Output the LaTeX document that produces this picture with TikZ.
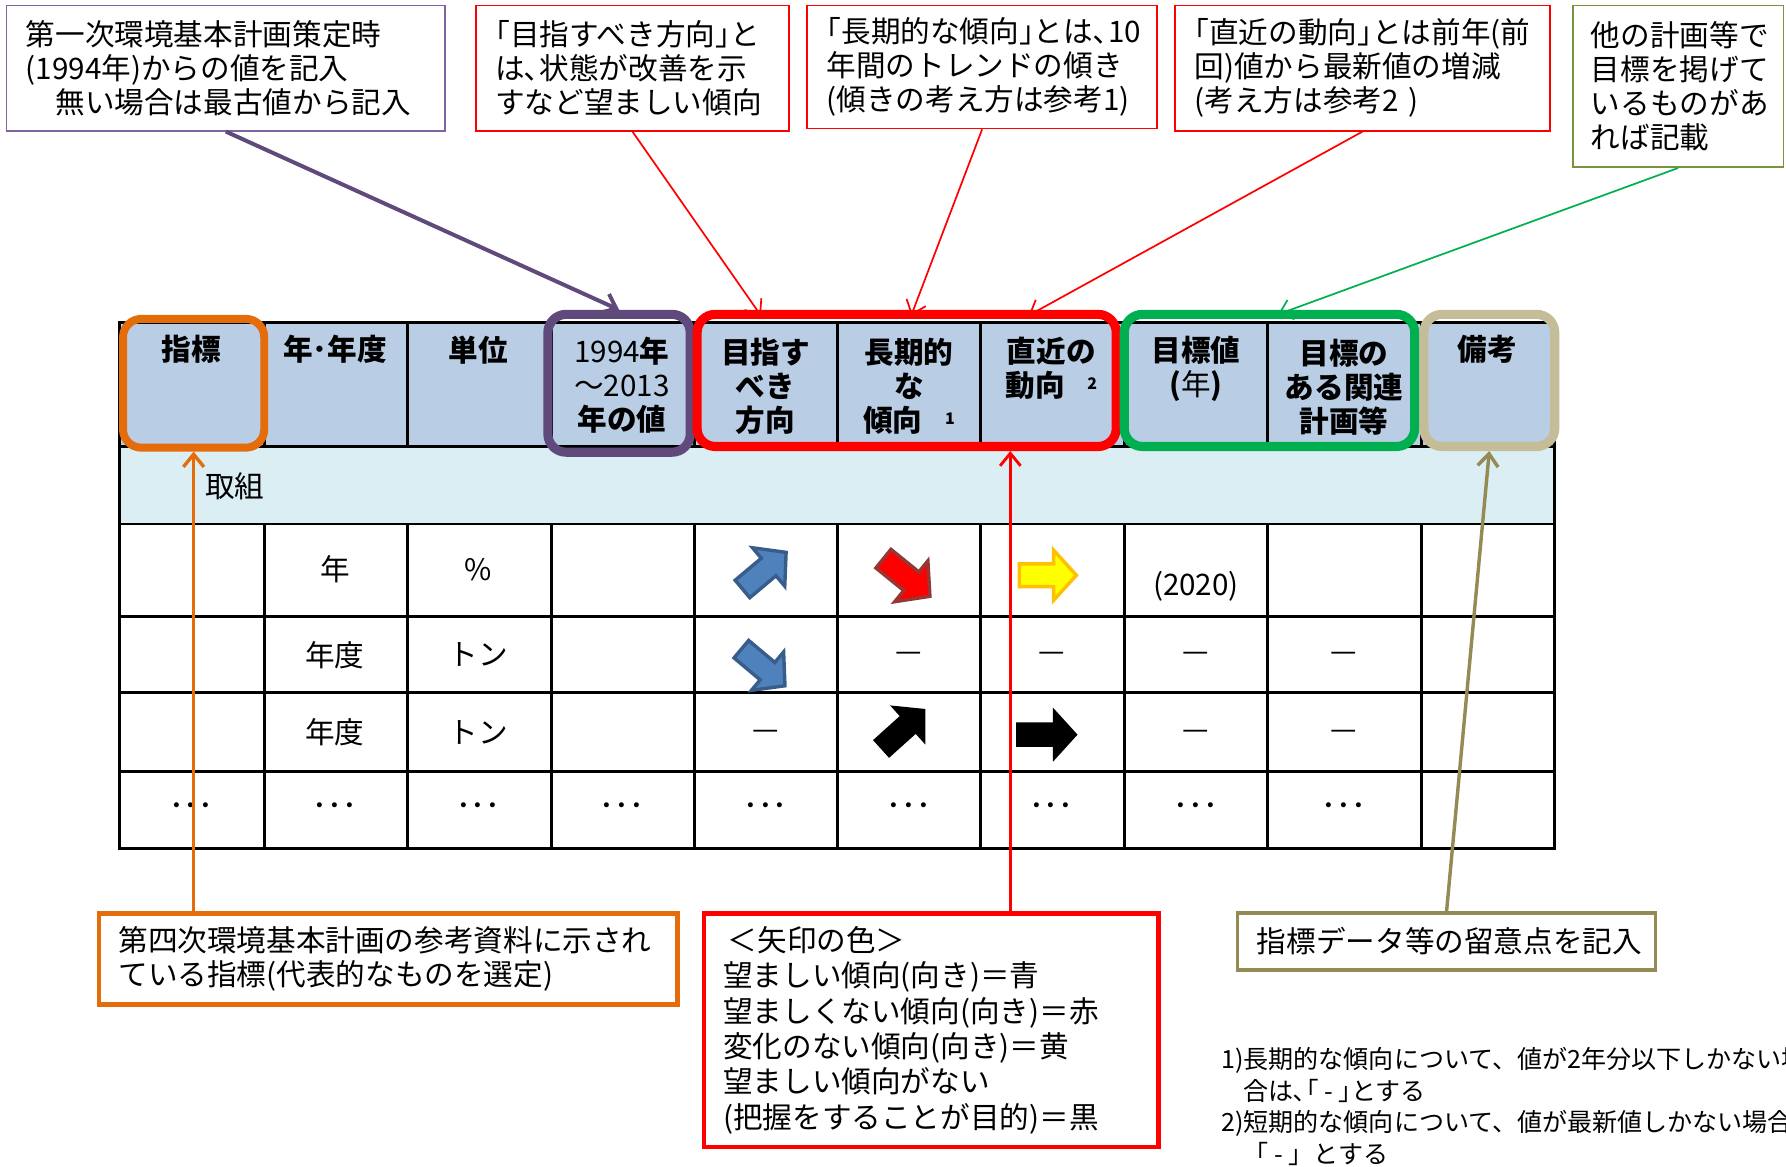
\documentclass[tikz,border=0pt]{standalone}
\usepackage{fontspec}
\setmainfont{Noto Sans CJK JP}
\usetikzlibrary{arrows.meta}
\definecolor{hdr}{HTML}{B9CDE5}
\definecolor{rowb}{HTML}{DAEEF3}
\definecolor{cOr}{HTML}{E46C0A}
\definecolor{cPu}{HTML}{604A7B}
\definecolor{cPuL}{HTML}{8064A2}
\definecolor{cGr}{HTML}{00B050}
\definecolor{cOl}{HTML}{77933C}
\definecolor{cTan}{HTML}{C4BD97}
\definecolor{cKh}{HTML}{948A54}
\definecolor{cBl}{HTML}{4F81BD}
\definecolor{cBlD}{HTML}{385D8A}
\definecolor{cRdD}{HTML}{953735}
\definecolor{cYe}{HTML}{FFFF00}
\definecolor{cYeD}{HTML}{FFC000}
\tikzset{
  nbox/.style={draw, anchor=north west, inner xsep=17pt, inner ysep=0pt, align=left, font=\fontsize{26}{30}\selectfont},
  hl/.style={draw, rounded corners=16pt, inner sep=0pt, line width=8pt},
  hdtxt/.style={font=\bfseries\fontsize{26}{30}\selectfont, align=center, inner sep=0pt},
  cell/.style={font=\fontsize{26}{30}\selectfont, inner sep=0pt},
  tip/.style={-{Straight Barb[length=11pt,width=18pt]}},
  gridline/.style={line width=2.5pt},
  barrow/.pic={\path[pic actions] (-25,-10) -- (5,-10) -- (5,-22) -- (25,0) -- (5,22) -- (5,10) -- (-25,10) -- cycle;}
}
\begin{document}
\begin{tikzpicture}[x=1pt,y=-1pt]
\useasboundingbox (0,0) rectangle (1568,1024);
\fill[white] (0,0) rectangle (1568,1024);

% ---- table ----
\fill[hdr] (105,283) rectangle (1365,392);
\fill[rowb] (105,392) rectangle (1365,460);
\foreach \yy in {392,460,541,608,677} \draw[gridline] (105,\yy) -- (1365,\yy);
\foreach \xx in {232,358,484,610,735,861,987,1113,1248} {
  \draw[gridline] (\xx,283) -- (\xx,392);
  \draw[gridline] (\xx,460) -- (\xx,745);
}
\draw[gridline] (105,283) rectangle (1365,745);

% ---- header highlights ----
\node[hl, draw=cOr, line width=7pt, minimum width=124pt, minimum height=113pt] (hA) at (170,336.5) {};
\node[hl, draw=cPu, minimum width=125pt, minimum height=121pt] (hP) at (543.5,336.5) {};
\node[hl, draw=red, minimum width=368pt, minimum height=116pt] (hR) at (796,334) {};
\node[hl, draw=cGr, minimum width=255pt, minimum height=116pt] (hG) at (1114.5,334) {};
\node[hl, draw=cTan, minimum width=115pt, minimum height=116pt] (hT) at (1307.5,334) {};

% ---- header texts ----
\node[hdtxt] (h1) at (168,307) {指標};
\node[hdtxt] (h2) at (294,307) {年･年度};
\node[hdtxt] (h3) at (420,307) {単位};
\node[hdtxt] (h4) at (546,338) {{\mdseries 1994}年\\{\mdseries ～2013}\\年の値};
\node[hdtxt] (h5) at (672,339) {目指す\\べき\\方向};
\node[hdtxt] (h6) at (798,339) {長期的\\な\\傾向\hspace{20pt}\raisebox{6pt}{\fontsize{14}{14}\selectfont 1}};
\node[hdtxt] (h7) at (923,323) {直近の\\動向\hspace{20pt}\raisebox{6pt}{\fontsize{14}{14}\selectfont 2}};
\node[hdtxt] (h8) at (1050,324) {目標値\\({\mdseries 年})};
\node[hdtxt] (h9) at (1180,340) {目標の\\ある関連\\計画等};
\node[hdtxt] (h10) at (1306,307) {備考};
\node[cell, anchor=west] (tk) at (180,427) {取組};

% ---- rows ----
\node[cell] (r1a) at (294,500) {年};
\node[cell] (r1b) at (420,500) {\%};
\node[cell] (r1c) at (1050,515) {(2020)};
\node[cell] (r2a) at (294,575) {年度};
\node[cell] (r2b) at (420,575) {トン};
\node[cell] (r3a) at (294,643) {年度};
\node[cell] (r3b) at (420,643) {トン};
\foreach \xx [count=\i] in {798,923,1050,1180} \node[cell] (d2\i) at (\xx,577) {—};
\foreach \xx [count=\i] in {672,1050,1180} \node[cell] (d3\i) at (\xx,645) {—};
\foreach \xx [count=\i] in {168,294,420,546,672,798,923,1050,1180} \node[cell] (d4\i) at (\xx,711) {･･･};

% ---- block arrows ----
\pic[fill=cBl, draw=cBlD, line width=3pt, rotate=40] at (671,501) {barrow};
\pic[fill=red, draw=cRdD, line width=3pt, rotate=-39, scale=1.05] at (796,507) {barrow};
\pic[fill=cYe, draw=cYeD, line width=3pt] at (920,505) {barrow};
\pic[fill=cBl, draw=cBlD, line width=3pt, rotate=-40] at (670,586) {barrow};
\pic[fill=black, rotate=42, scale=1.05] at (793,640) {barrow};
\pic[fill=black, scale=1.08] at (919,645) {barrow};

% ---- top notes ----
\node[nbox, draw=cPuL, line width=1.5pt, text width=351pt, minimum height=110pt] (b1) at (5,4)
  {第一次環境基本計画策定時\\(1994年)からの値を記入\\\hspace*{26pt}無い場合は最古値から記入};
\node[nbox, draw=red, line width=1.5pt, text width=241pt, minimum height=110pt] (b2) at (417,4)
  {｢目指すべき方向｣と\\は､状態が改善を示\\すなど望ましい傾向};
\node[nbox, draw=red, line width=1.5pt, text width=273pt, minimum height=108pt] (b3) at (708,4)
  {｢長期的な傾向｣とは､10\\年間のトレンドの傾き\\(傾きの考え方は参考1)};
\node[nbox, draw=red, line width=1.5pt, text width=295pt, minimum height=110pt] (b4) at (1031,4)
  {｢直近の動向｣とは前年(前\\回)値から最新値の増減\\(考え方は参考2 )};
\node[nbox, draw=cOl, line width=1.5pt, text width=153pt, inner xsep=16pt, minimum height=142pt] (b5) at (1380,4)
  {他の計画等で\\目標を掲げて\\いるものがあ\\れば記載};

% ---- bottom notes ----
\node[nbox, draw=cOr, line width=4pt, text width=474pt, minimum height=80pt] (ob) at (85,800)
  {第四次環境基本計画の参考資料に示され\\ている指標(代表的なものを選定)};
\node[nbox, draw=red, line width=4pt, text width=365pt, minimum height=205pt, font=\fontsize{26}{31}\selectfont] (rb) at (616,800)
  {\hspace*{4pt}＜矢印の色＞\\望ましい傾向(向き)＝青\\望ましくない傾向(向き)＝赤\\変化のない傾向(向き)＝黄\\望ましい傾向がない\\(把握をすることが目的)＝黒};
\node[nbox, draw=cKh, line width=3pt, text width=333pt, minimum height=50pt] (tb) at (1085,800)
  {指標データ等の留意点を記入};

\node[anchor=north west, inner sep=0pt, align=left, font=\fontsize{22}{28}\selectfont] (fn) at (1072,919)
  {1)長期的な傾向について、値が2年分以下しかない場\\\hphantom{1)}合は､｢ - ｣とする\\2)短期的な傾向について、値が最新値しかない場合は\\\hphantom{2)}「 - 」とする};

% ---- connectors ----
\coordinate (e2) at (668,277);
\coordinate (e3) at (800,277);
\coordinate (e4) at (903,277);
\coordinate (e5) at (1122,276);
\coordinate (e7) at (887,396);
\draw[cPu, line width=3.5pt, tip] (b1.south) -- (hP.north);
\draw[red, line width=1.5pt, tip] (b2.south) -- (e2);
\draw[red, line width=1.5pt, tip] (b3.south) -- (e3);
\draw[red, line width=1.5pt, tip] (b4.south) -- (e4);
\draw[cGr, line width=1.5pt, tip] (b5.south) -- (e5);
\draw[cOr, line width=3pt, tip] (ob.north -| hA.south) -- (hA.south);
\draw[red, line width=2.5pt, tip] (rb.north -| e7) -- (e7);
\draw[cKh, line width=3pt, tip] (tb.north) -- (hT.south);
\end{tikzpicture}
\end{document}
